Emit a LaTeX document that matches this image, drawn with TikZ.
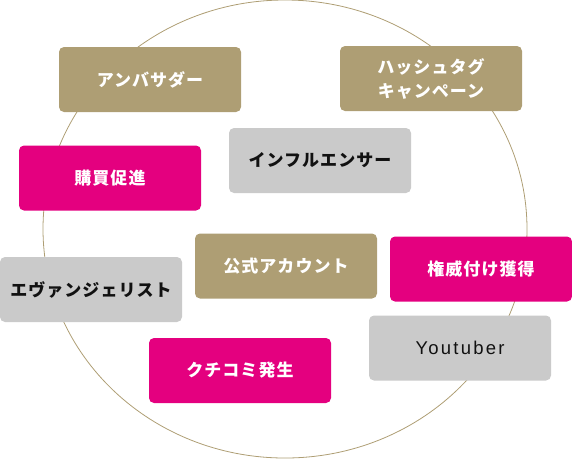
\documentclass[tikz,border=0pt]{standalone}
\usepackage{fontspec}
\setmainfont{Noto Sans CJK JP}[LetterSpace=6]
\newfontfamily\latinfont{Liberation Sans}[LetterSpace=12]
\definecolor{tan}{HTML}{AE9E74}
\definecolor{mag}{HTML}{E4007F}
\definecolor{lgray}{HTML}{CACACA}
\definecolor{ink}{HTML}{111111}
\begin{document}
\begin{tikzpicture}[x=1pt,y=-1pt,
  box/.style={rectangle,rounded corners=5pt,minimum width=182pt,minimum height=65pt,inner sep=0pt,draw=none,font=\fontsize{17pt}{24pt}\selectfont\bfseries,align=center},
  tanbox/.style={box,fill=tan,text=white},
  magbox/.style={box,fill=mag,text=white},
  graybox/.style={box,fill=lgray,text=ink}]
\useasboundingbox (0,0) rectangle (572,459);
\draw[tan,line width=0.8pt] (285,229) ellipse [x radius=242, y radius=229];
\node[tanbox] (amb) at (150,79.5) {アンバサダー};
\node[tanbox] (hash) at (431,78.5) {ハッシュタグ\\キャンペーン};
\node[graybox] (inf) at (320,160.5) {インフルエンサー};
\node[magbox] (buy) at (110,178) {購買促進};
\node[graybox] (eva) at (91,289.5) {エヴァンジェリスト};
\node[tanbox] (off) at (286,266) {公式アカウント};
\node[magbox] (auth) at (481,269) {権威付け獲得};
\node[graybox] (yt) at (460,348) {\latinfont\mdseries\fontsize{18.5pt}{24pt}\selectfont Youtuber};
\node[magbox] (kuchi) at (240,370.5) {クチコミ発生};
\end{tikzpicture}
\end{document}
